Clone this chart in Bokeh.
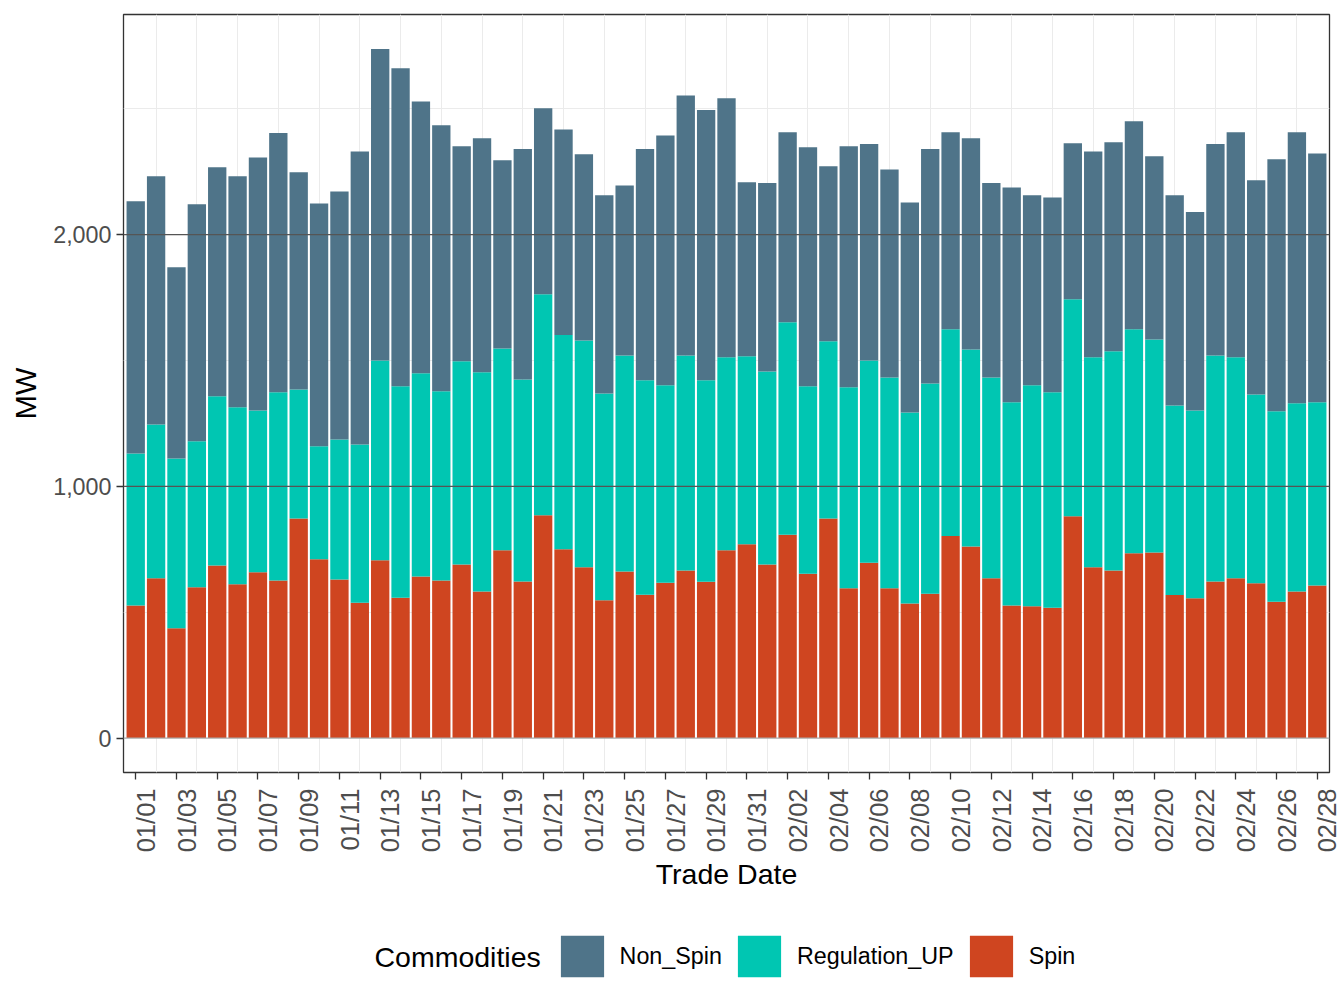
import math
from bokeh.plotting import figure
from bokeh.layouts import column
from bokeh.models import (Range1d, FixedTicker, NumeralTickFormatter, Label,
                          Legend, LegendItem, Span, ColumnDataSource)
from bokeh.embed import file_html
from bokeh.resources import INLINE

dates = ["01/01", "01/02", "01/03", "01/04", "01/05", "01/06", "01/07", "01/08", "01/09", "01/10",
         "01/11", "01/12", "01/13", "01/14", "01/15", "01/16", "01/17", "01/18", "01/19", "01/20",
         "01/21", "01/22", "01/23", "01/24", "01/25", "01/26", "01/27", "01/28", "01/29", "01/30",
         "01/31", "02/01", "02/02", "02/03", "02/04", "02/05", "02/06", "02/07", "02/08", "02/09",
         "02/10", "02/11", "02/12", "02/13", "02/14", "02/15", "02/16", "02/17", "02/18", "02/19",
         "02/20", "02/21", "02/22", "02/23", "02/24", "02/25", "02/26", "02/27", "02/28"]

spin = [527, 635, 436, 599, 686, 611, 659, 626, 872, 710,
        630, 538, 706, 557, 642, 626, 690, 582, 746, 622,
        885, 750, 679, 548, 662, 569, 617, 666, 621, 746,
        770, 690, 808, 653, 872, 595, 697, 595, 535, 573,
        803, 761, 635, 527, 524, 518, 881, 679, 666, 734,
        737, 568, 555, 622, 635, 615, 542, 582, 606]

regulation_up = [604, 611, 675, 580, 672, 703, 642, 748, 513, 449,
                 556, 628, 794, 841, 807, 752, 807, 871, 802, 803,
                 878, 851, 901, 821, 858, 853, 785, 854, 801, 767,
                 747, 766, 844, 745, 705, 799, 803, 838, 759, 836,
                 821, 783, 798, 807, 878, 856, 862, 834, 871, 890,
                 847, 753, 746, 898, 878, 750, 756, 748, 728]

non_spin = [1002, 986, 760, 942, 910, 918, 1006, 1030, 863, 965,
            986, 1165, 1238, 1263, 1080, 1057, 854, 930, 748, 915,
            739, 817, 740, 788, 675, 918, 992, 1033, 1073, 1029,
            691, 749, 755, 949, 695, 957, 860, 826, 834, 931,
            783, 839, 772, 854, 755, 774, 620, 818, 830, 827,
            728, 836, 789, 840, 894, 851, 1002, 1077, 989]

stack_order = ["Spin", "Regulation_UP", "Non_Spin"]
legend_order = ["Non_Spin", "Regulation_UP", "Spin"]
legend_title = "Commodities"
colors = {"Non_Spin": "#4F7489", "Regulation_UP": "#00C6B2", "Spin": "#CF4520"}
y_ticks = [0, 1000, 2000]
y_minor = [500, 1500, 2500]

FONT = "Liberation Sans"
n = len(dates)
x = list(range(1, n + 1))
source = ColumnDataSource(dict(x=x, Spin=spin, Regulation_UP=regulation_up, Non_Spin=non_spin))

ymax = max(a + b + c for a, b, c in zip(spin, regulation_up, non_spin))
pad = ymax * 0.05

p = figure(width=1344, height=900, output_backend="svg", toolbar_location=None,
           x_range=Range1d(0.4, n + 0.6), y_range=Range1d(-pad, ymax + pad),
           min_border_left=123, min_border_right=15, min_border_top=14, min_border_bottom=128)
p.background_fill_color = "white"
p.border_fill_color = "white"
p.outline_line_color = "#333333"
p.outline_line_width = 1.3

renderers = p.vbar_stack(stack_order, x="x", width=0.9, source=source,
                         fill_color=[colors[c] for c in stack_order], line_color=None)

# grids
odd_ticks = x[0::2]
even_ticks = x[1::2]
p.xgrid.ticker = FixedTicker(ticks=even_ticks)
p.xgrid.grid_line_color = "#EBEBEB"
p.xgrid.grid_line_width = 1
p.ygrid.ticker = FixedTicker(ticks=y_minor)
p.ygrid.grid_line_color = "#EBEBEB"
p.ygrid.grid_line_width = 1

for v in y_ticks:
    col = "#AAAAAA" if v == 0 else "#555555"
    p.add_layout(Span(location=v, dimension="width", line_color=col, line_width=1.2))

# y axis
ya = p.yaxis[0]
ya.ticker = FixedTicker(ticks=y_ticks)
ya.formatter = NumeralTickFormatter(format="0,0")
ya.axis_line_color = None
ya.major_tick_out = 7
ya.major_tick_in = 0
ya.major_tick_line_color = "#333333"
ya.major_tick_line_width = 1.3
ya.minor_tick_line_color = None
ya.major_label_text_font = FONT
ya.major_label_text_font_size = "23.3px"
ya.major_label_text_color = "#4D4D4D"
ya.major_label_standoff = 5
ya.axis_label = "MW"
ya.axis_label_text_font = FONT
ya.axis_label_text_font_size = "29px"
ya.axis_label_text_font_style = "normal"
ya.axis_label_text_color = "black"
ya.axis_label_standoff = 8

# x axis: labels (major, slightly right of each tick as in ggplot's rotated text),
# tick marks on the odd days (minor ticks)
lab_ticks = [t + 0.5 for t in odd_ticks]
xa = p.xaxis[0]
xa.ticker = FixedTicker(ticks=lab_ticks, minor_ticks=odd_ticks)
xa.major_label_overrides = {t + 0.5: dates[t - 1] for t in odd_ticks}
xa.axis_line_color = None
xa.major_tick_out = 7
xa.major_tick_in = 0
xa.major_tick_line_color = None
xa.minor_tick_out = 7
xa.minor_tick_in = 0
xa.minor_tick_line_color = "#333333"
xa.minor_tick_line_width = 1.3
xa.major_label_orientation = math.pi / 2
xa.major_label_text_font = FONT
xa.major_label_text_font_size = "25.5px"
xa.major_label_text_color = "#4D4D4D"
xa.major_label_standoff = 9
xa.axis_label = "Trade Date"
xa.axis_label_text_font = FONT
xa.axis_label_text_font_size = "28.5px"
xa.axis_label_text_font_style = "normal"
xa.axis_label_text_color = "black"
xa.axis_label_standoff = 3

# legend in its own strip below the chart (its frame is aligned with the chart's frame)
pl = figure(width=1344, height=108, output_backend="svg", toolbar_location=None,
            x_axis_type=None, y_axis_type=None,
            x_range=Range1d(0, 1), y_range=Range1d(0, 1),
            min_border_left=0, min_border_right=0, min_border_top=0, min_border_bottom=0)
pl.outline_line_color = None
pl.background_fill_color = "white"
pl.border_fill_color = "white"
pl.xgrid.visible = False
pl.ygrid.visible = False
# zero-height keys: they only lend their colour to the legend
dummy = {c: pl.vbar(x=[0.5], top=[0], bottom=[0], width=0.0, fill_color=colors[c],
                    line_color=None)
         for c in legend_order}
items = [LegendItem(label=c, renderers=[dummy[c]]) for c in legend_order]
legend = Legend(items=items, orientation="horizontal", location=(431.6, 26),
                label_text_font=FONT, label_text_font_size="23.3px", label_text_color="black",
                glyph_width=54, glyph_height=52, label_standoff=11, spacing=10,
                padding=0, margin=0, border_line_color=None, background_fill_alpha=0)
pl.add_layout(legend, "center")
pl.add_layout(Label(x=251, y=52, x_units="screen", y_units="screen", text=legend_title,
                    text_font=FONT, text_font_size="28.5px", text_color="black",
                    text_align="left", text_baseline="middle"))

layout = column(p, pl, spacing=0)
open("out.html", "w").write(file_html(layout, INLINE))
